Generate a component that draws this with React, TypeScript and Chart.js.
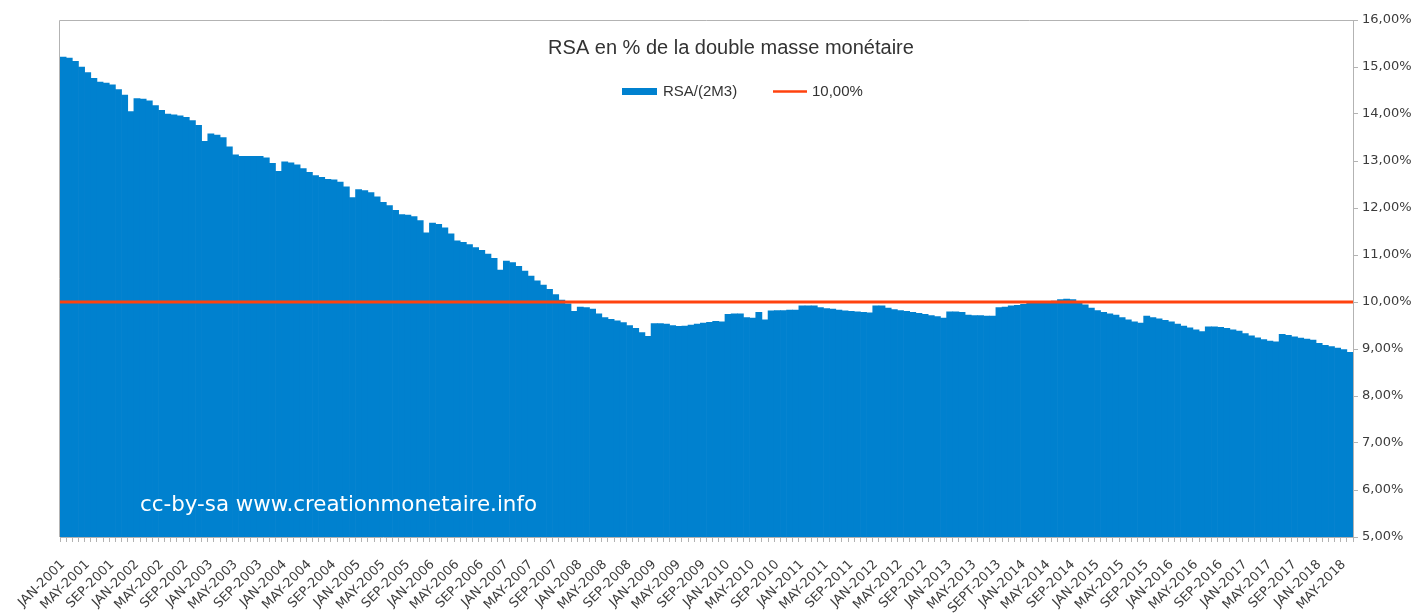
import React, { useEffect, useRef } from 'react';
import { Chart, registerables } from 'chart.js';

Chart.register(...registerables);

// ---------- data ----------
const MONTH_ABBR = ['JAN', 'FEB', 'MAR', 'APR', 'MAY', 'JUN', 'JUL', 'AUG', 'SEP', 'OCT', 'NOV', 'DEC'];
const FIRST_YEAR = 2001;
const MONTH_COUNT = 210; // JAN-2001 .. JUN-2018
const CATEGORIES: string[] = Array.from({ length: MONTH_COUNT }, (_, i) =>
  `${MONTH_ABBR[i % 12]}-${FIRST_YEAR + Math.floor(i / 12)}`
);

// tick labels shown every 4 months
const TICK_LABELS = [
  'JAN-2001', 'MAY-2001', 'SEP-2001', 'JAN-2002', 'MAY-2002', 'SEP-2002',
  'JAN-2003', 'MAY-2003', 'SEP-2003', 'JAN-2004', 'MAY-2004', 'SEP-2004',
  'JAN-2005', 'MAY-2005', 'SEP-2005', 'JAN-2006', 'MAY-2006', 'SEP-2006',
  'JAN-2007', 'MAY-2007', 'SEP-2007', 'JAN-2008', 'MAY-2008', 'SEP-2008',
  'JAN-2009', 'MAY-2009', 'SEP-2009', 'JAN-2010', 'MAY-2010', 'SEP-2010',
  'JAN-2011', 'MAY-2011', 'SEP-2011', 'JAN-2012', 'MAY-2012', 'SEP-2012',
  'JAN-2013', 'MAY-2013', 'SEPT-2013', 'JAN-2014', 'MAY-2014', 'SEP-2014',
  'JAN-2015', 'MAY-2015', 'SEP-2015', 'JAN-2016', 'MAY-2016', 'SEP-2016',
  'JAN-2017', 'MAY-2017', 'SEP-2017', 'JAN-2018', 'MAY-2018',
];
const TICK_EVERY = 4;

// RSA / (2 x M3), in %
const RSA_2M3 = [
  // 2001
  15.21, 15.19, 15.12, 15.00, 14.88, 14.76, 14.68, 14.66, 14.62, 14.52, 14.40, 14.05,
  // 2002
  14.33, 14.32, 14.28, 14.18, 14.08, 14.00, 13.98, 13.96, 13.93, 13.86, 13.76, 13.42,
  // 2003
  13.58, 13.55, 13.50, 13.30, 13.13, 13.10, 13.10, 13.10, 13.10, 13.07, 12.95, 12.78,
  // 2004
  12.98, 12.96, 12.92, 12.84, 12.76, 12.69, 12.65, 12.61, 12.60, 12.55, 12.45, 12.22,
  // 2005
  12.39, 12.37, 12.33, 12.24, 12.12, 12.05, 11.95, 11.86, 11.85, 11.82, 11.73, 11.47,
  // 2006
  11.68, 11.65, 11.58, 11.45, 11.30, 11.27, 11.22, 11.16, 11.10, 11.02, 10.93, 10.68,
  // 2007
  10.87, 10.84, 10.76, 10.66, 10.55, 10.45, 10.36, 10.27, 10.16, 10.04, 9.96, 9.80,
  // 2008
  9.89, 9.88, 9.85, 9.75, 9.67, 9.63, 9.60, 9.56, 9.50, 9.44, 9.35, 9.27,
  // 2009
  9.54, 9.54, 9.53, 9.50, 9.48, 9.49, 9.51, 9.53, 9.55, 9.57, 9.59, 9.58,
  // 2010
  9.74, 9.75, 9.75, 9.67, 9.66, 9.78, 9.62, 9.81, 9.82, 9.82, 9.83, 9.83,
  // 2011
  9.92, 9.92, 9.92, 9.88, 9.86, 9.85, 9.83, 9.81, 9.80, 9.79, 9.78, 9.77,
  // 2012
  9.92, 9.92, 9.87, 9.84, 9.82, 9.80, 9.78, 9.76, 9.74, 9.71, 9.69, 9.66,
  // 2013
  9.79, 9.79, 9.78, 9.72, 9.71, 9.71, 9.70, 9.70, 9.88, 9.89, 9.92, 9.93,
  // 2014
  9.95, 9.97, 10.00, 10.01, 10.01, 10.02, 10.05, 10.06, 10.05, 9.97, 9.94, 9.87,
  // 2015
  9.82, 9.78, 9.75, 9.72, 9.67, 9.62, 9.58, 9.55, 9.70, 9.67, 9.64, 9.61,
  // 2016
  9.58, 9.53, 9.49, 9.45, 9.41, 9.37, 9.47, 9.47, 9.46, 9.44, 9.41, 9.38,
  // 2017
  9.33, 9.28, 9.24, 9.20, 9.17, 9.15, 9.31, 9.29, 9.26, 9.23, 9.21, 9.19,
  // 2018
  9.12, 9.08, 9.05, 9.02, 8.99, 8.93,
];

const THRESHOLD = 10;
const THRESHOLD_SERIES = CATEGORIES.map(() => THRESHOLD);

const Y_MIN = 5;
const Y_MAX = 16;
const Y_STEP = 1;

const TITLE = 'RSA en % de la double masse monétaire';
const SERIES_NAME = 'RSA/(2M3)';
const LINE_NAME = '10,00%';
const WATERMARK = 'cc-by-sa www.creationmonetaire.info';

// ---------- styles ----------
const BAR_COLOR = '#0081cf';
const LINE_COLOR = '#ff420e';
const FRAME_COLOR = '#b3b3b3';
const TEXT_COLOR = '#333333';
const AXIS_TEXT = '#3c3c3c';

const fmtPct = (v: number) => v.toFixed(2).replace('.', ',') + '%';

const overlayPlugin = {
  id: 'overlayText',
  beforeDatasetsDraw(chart: any) {
    const { ctx, chartArea: a } = chart;
    ctx.save();
    ctx.strokeStyle = FRAME_COLOR;
    ctx.lineWidth = 1;
    ctx.beginPath();
    ctx.moveTo(a.left - 0.5, a.bottom);
    ctx.lineTo(a.left - 0.5, a.top + 0.5);
    ctx.lineTo(a.right, a.top + 0.5);
    ctx.stroke();
    ctx.restore();
  },
  afterDraw(chart: any) {
    const { ctx, chartArea: a } = chart;
    ctx.save();
    // title
    ctx.fillStyle = TEXT_COLOR;
    ctx.font = '20px "Liberation Sans", Arial, sans-serif';
    ctx.textAlign = 'center';
    ctx.textBaseline = 'alphabetic';
    ctx.fillText(TITLE, a.left + 671, 54);

    // legend
    const ly = 91.5;
    ctx.fillStyle = BAR_COLOR;
    ctx.fillRect(a.left + 562, ly - 3.5, 35, 7);
    ctx.fillStyle = TEXT_COLOR;
    ctx.font = '15px "Liberation Sans", Arial, sans-serif';
    ctx.textAlign = 'left';
    ctx.textBaseline = 'middle';
    ctx.fillText(SERIES_NAME, a.left + 603, ly);
    ctx.strokeStyle = LINE_COLOR;
    ctx.lineWidth = 2.5;
    ctx.beginPath();
    ctx.moveTo(a.left + 713, ly);
    ctx.lineTo(a.left + 747, ly);
    ctx.stroke();
    ctx.fillText(LINE_NAME, a.left + 752, ly);

    // watermark
    ctx.fillStyle = '#ffffff';
    ctx.font = '21.4px "DejaVu Sans", sans-serif';
    ctx.textBaseline = 'alphabetic';
    ctx.fillText(WATERMARK, a.left + 80, 511);
    ctx.restore();
  },
};

export default function App() {
  const ref = useRef<HTMLCanvasElement>(null);

  useEffect(() => {
    const canvas = ref.current;
    if (!canvas) return;
    const chart = new Chart(canvas, {
      type: 'bar',
      data: {
        labels: CATEGORIES,
        datasets: [
          {
            type: 'line',
            label: LINE_NAME,
            data: THRESHOLD_SERIES,
            xAxisID: 'x2',
            yAxisID: 'y',
            borderColor: LINE_COLOR,
            backgroundColor: LINE_COLOR,
            borderWidth: 3,
            pointRadius: 0,
            fill: false,
            order: 0,
          } as any,
          {
            type: 'bar',
            label: SERIES_NAME,
            data: RSA_2M3,
            xAxisID: 'x',
            yAxisID: 'y',
            backgroundColor: BAR_COLOR,
            borderWidth: 0,
            barPercentage: 1,
            categoryPercentage: 1,
            grouped: false,
            order: 1,
          } as any,
        ],
      },
      options: {
        responsive: false,
        devicePixelRatio: 1,
        animation: false,
        datasets: {
          bar: { barPercentage: 1, categoryPercentage: 1, grouped: false },
        },
        layout: { padding: { left: 60, top: 20, right: 0, bottom: 0 } },
        plugins: {
          legend: { display: false },
          title: { display: false },
          tooltip: { enabled: false },
        },
        scales: {
          x: {
            type: 'category',
            offset: true,
            afterFit: (scale: any) => {
              scale.height = 79;
            },
            grid: {
              drawOnChartArea: false,
              drawTicks: true,
              tickLength: 5,
              color: FRAME_COLOR,
            },
            border: { display: true, color: FRAME_COLOR },
            ticks: {
              autoSkip: false,
              maxRotation: 45,
              minRotation: 45,
              padding: 15,
              color: AXIS_TEXT,
              font: { family: '"DejaVu Sans", sans-serif', size: 13 },
              callback: (_v: any, index: number) =>
                index % TICK_EVERY === 0 ? TICK_LABELS[index / TICK_EVERY] ?? '' : '',
            },
          },
          x2: {
            type: 'category',
            offset: false,
            display: false,
          },
          y: {
            position: 'right',
            min: Y_MIN,
            max: Y_MAX,
            afterFit: (scale: any) => {
              scale.width = 64;
            },
            grid: {
              drawOnChartArea: false,
              drawTicks: true,
              tickLength: 5,
              color: FRAME_COLOR,
            },
            border: { display: true, color: FRAME_COLOR },
            ticks: {
              stepSize: Y_STEP,
              padding: 4,
              color: AXIS_TEXT,
              font: { family: '"DejaVu Sans", sans-serif', size: 13 },
              callback: (v: any) => fmtPct(Number(v)),
            },
          },
        },
      } as any,
      plugins: [overlayPlugin],
    });
    return () => chart.destroy();
  }, []);

  return (
    <div style={{ position: 'absolute', left: 0, top: 0, width: 1417, height: 616, background: '#ffffff' }}>
      <canvas ref={ref} width={1417} height={616} style={{ display: 'block', width: 1417, height: 616 }} />
    </div>
  );
}
